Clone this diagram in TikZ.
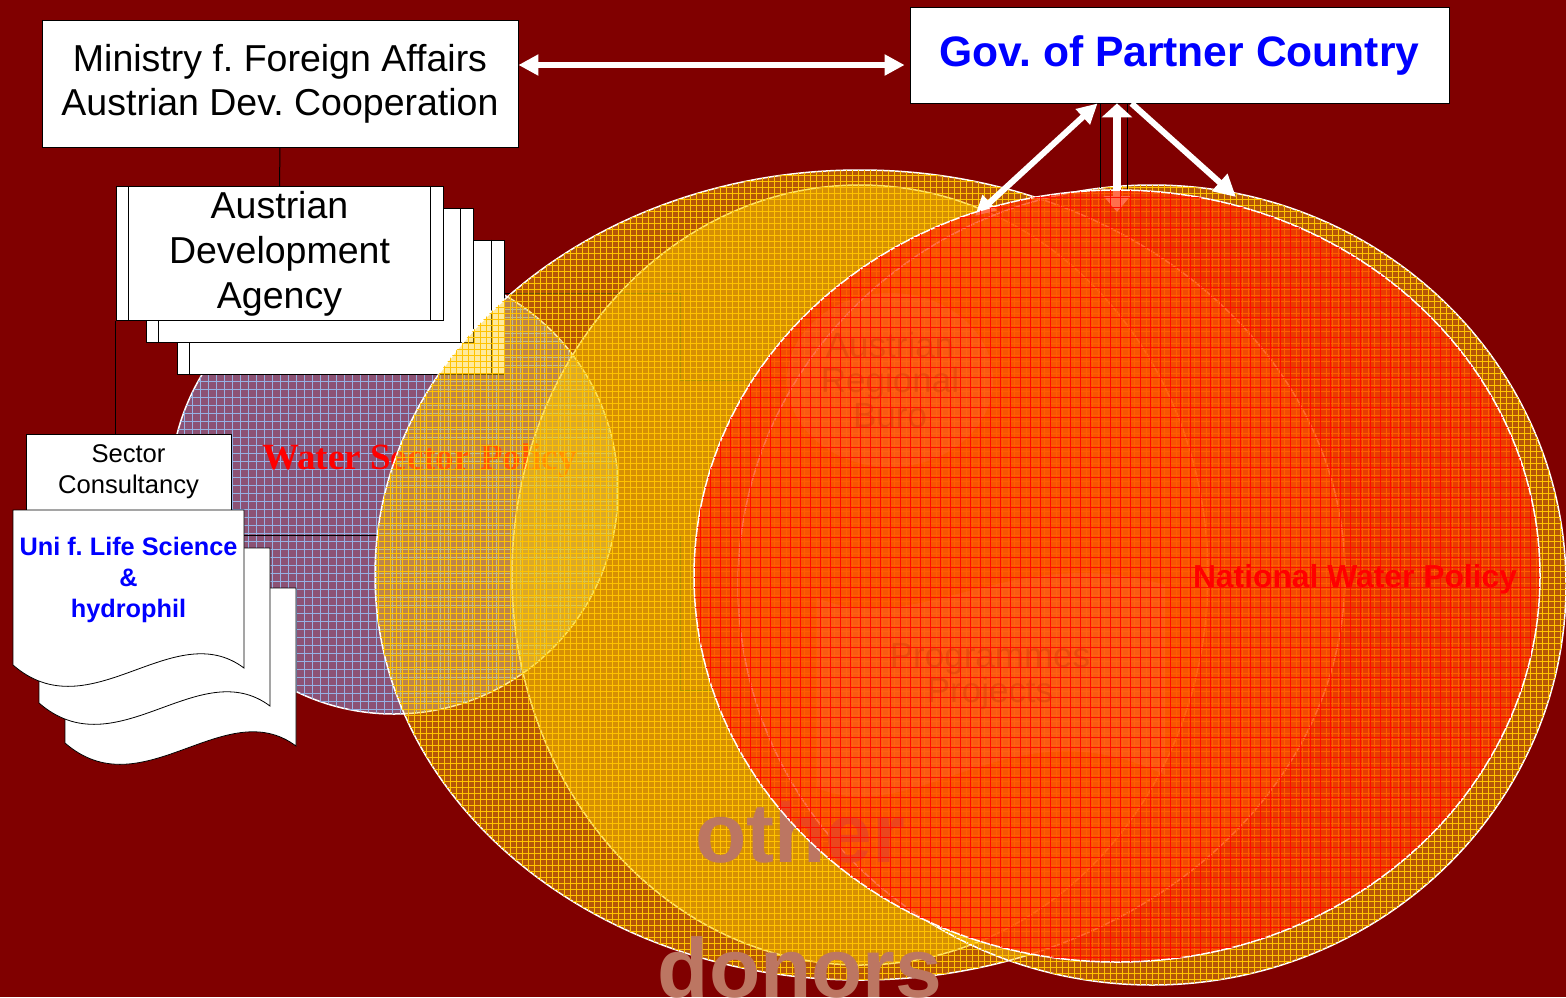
\documentclass[tikz,border=0pt]{standalone}
\usepackage{fontspec}
\setmainfont{Liberation Sans}
\newfontfamily\serifface{Liberation Serif}
\usetikzlibrary{arrows.meta, shapes.geometric, patterns.meta, positioning}
\frenchspacing

\definecolor{slide}{RGB}{128,0,0}
\definecolor{ochre}{RGB}{255,205,20}
\definecolor{ochrein}{RGB}{255,215,0}
\definecolor{ochreline}{RGB}{255,195,0}
\definecolor{ochreedge}{RGB}{255,226,100}
\definecolor{mauve}{RGB}{140,82,116}
\definecolor{gridblue}{RGB}{150,178,228}
\definecolor{nwpred}{RGB}{255,50,0}
\definecolor{gridred}{RGB}{255,10,0}
\definecolor{donortext}{RGB}{188,118,98}
\definecolor{govblue}{RGB}{0,0,255}

\tikzset{
  box/.style={draw=black, fill=white, line width=0.8pt, inner sep=0pt, align=center},
  adabox/.style={box, minimum width=327pt, minimum height=134pt},
  doc/.style={draw=black, fill=white, line width=0.8pt},
  link/.style={draw=black, line width=1pt},
  warrow/.style={draw=white, line width=6pt, {Triangle[length=20pt,width=20pt]}-{Triangle[length=20pt,width=20pt]}},
  donor/.style={ellipse, inner sep=0pt, fill=ochre, fill opacity=0.42, draw=white, line width=1.5pt,
    postaction={pattern={Hatch[angle=0,distance=6pt,line width=0.6pt]}, pattern color=ochreline, fill opacity=0.28}},
  veil/.style={white, fill opacity=0.22},
  ghost/.style={align=center, text=black, text opacity=0.25, font={\fontsize{35}{35}\selectfont}}
}

\begin{document}
\begin{tikzpicture}[x=1pt, y=-1pt]
  \useasboundingbox (0,0) rectangle (1566,997);
  \fill[slide] (0,0) rectangle (1566,997);

  % places the faint links run to
  \node[ellipse, inner sep=0pt, minimum width=206pt, minimum height=174pt] (buro) at (890,380) {};
  \node[inner sep=0pt, minimum width=348pt, minimum height=190pt] (prog) at (991,690) {};

  % water sector policy
  \node[circle, inner sep=0pt, minimum size=448pt, fill=mauve, draw=white, line width=1.5pt,
    postaction={pattern={Hatch[angle=0,distance=8pt,line width=0.8pt]}, pattern color=gridblue, fill opacity=0.28}] (wsp) at (394,490) {};
  \node[text=red, font={\serifface\bfseries\fontsize{37}{44}\selectfont}] (wsptext) at (419.5,461) {Water Sector Policy};

  % boxes
  \node[box, minimum width=476pt, minimum height=127pt, font={\fontsize{37.5}{44}\selectfont}] (ministry) at (280,83.5)
    {Ministry f. Foreign Affairs\\Austrian Dev. Cooperation};
  \node[box, minimum width=539pt, minimum height=96pt, text=govblue, font={\bfseries\fontsize{42.6}{50}\selectfont}] (gov) at (1179.5,55)
    {Gov. of Partner Country};

  \foreach \b/\px/\py in {ada3/340.5/307, ada2/309.5/275.5} {
    \node[adabox] (\b) at (\px,\py) {};
    \draw[line width=0.8pt] ([xshift=13pt]\b.north west) -- ([xshift=13pt]\b.south west)
      ([xshift=-13pt]\b.north east) -- ([xshift=-13pt]\b.south east);
  }
  \node[adabox, font={\fontsize{37.5}{45}\selectfont}] (ada1) at (279.5,253.5) {Austrian\\Development\\Agency};
  \draw[line width=0.8pt] ([xshift=13pt]ada1.north west) -- ([xshift=13pt]ada1.south west)
    ([xshift=-13pt]ada1.north east) -- ([xshift=-13pt]ada1.south east);

  \node[box, minimum width=205pt, minimum height=76pt, font={\fontsize{25.6}{31}\selectfont}] (sector) at (128.5,472)
    {Sector\\Consultancy};

  \foreach \dx/\dy in {52/78, 26/38, 0/0} {
    \begin{scope}[shift={(13+\dx,510+\dy)}]
      \draw[doc] (0,0) -- (231,0) -- (231,158) .. controls (160,105) and (77,222) .. (0,155) -- cycle;
    \end{scope}
  }
  \node[align=center, inner sep=0pt, minimum width=231pt, text=govblue, font={\bfseries\fontsize{25.3}{31}\selectfont}] (uni) at (128.5,580)
    {Uni f. Life Science\\\&\\hydrophil};

  % links
  \draw[link] (ministry.south) -- (ada1.north);
  \draw[link] (ada1.south west) -- (ada1.south west |- sector.north);
  \draw[link] ([yshift=14pt]ada3.east) -- ++(176,0) |- (buro.west);
  \draw[link] ([yshift=45pt]uni.east) -- ++(436,0) |- (prog.west);

  % donors
  \node[donor, minimum width=970pt, minimum height=810pt] (donorsout) at (860,575) {};
  \node[donor, fill=ochrein, fill opacity=0.45, draw=ochreedge, minimum width=696pt, minimum height=780pt,
    postaction={pattern={Hatch[angle=0,distance=6pt,line width=0.6pt]}, pattern color=ochreline, fill opacity=0.2}] (donorsin) at (860,575) {};
  \node[donor, minimum width=828pt, minimum height=800pt] (nwpring) at (1152,585) {};

  % regional buro, programmes
  \fill[veil] (buro.center) ellipse [x radius=103, y radius=87];
  \node[ghost] (burotext) at (buro) {Austrian\\Regional\\Buro};
  \fill[veil] (817,598) .. controls (920,640) and (1010,540) .. (1165,585) -- (1165,775)
    .. controls (1010,700) and (920,830) .. (817,788) -- cycle;
  \node[ghost] (progtext) at (990,677) {Programmes\\Projects};

  \node[text=donortext, font={\bfseries\fontsize{84}{100}\selectfont}, anchor=base] (other) at (800,862) {other};
  \node[text=donortext, font={\bfseries\fontsize{84}{100}\selectfont}, anchor=base] (donors) at (800,997) {donors};

  % arrows
  \coordinate (tipleft) at (975,216);
  \coordinate (tipmid) at (1117,212);
  \coordinate (tipright) at (1236,197);
  \coordinate (ringtop) at (1100,188);
  \coordinate (nwptop) at (1127,190);
  \draw[link] ([xshift=-79.5pt]gov.south) -- (ringtop);
  \draw[link] ([xshift=-52.5pt]gov.south) -- (nwptop);
  \draw[warrow] ([yshift=18.5pt]ministry.east) -- ([yshift=-10pt,xshift=-5pt]gov.west);
  \draw[warrow] ([xshift=-82pt]gov.south) -- (tipleft);
  \draw[warrow, -{Triangle[length=22pt,width=22pt]}] ([xshift=-48pt]gov.south) -- (tipright);
  \draw[warrow, line width=8pt, {Triangle[length=14pt,width=30pt]}-{Triangle[length=16pt,width=26pt]}] ([xshift=-62.5pt]gov.south) -- (tipmid);

  % national water policy
  \node[ellipse, inner sep=0pt, minimum width=846pt, minimum height=772pt, fill=nwpred, fill opacity=0.7, draw=white, line width=1.5pt,
    postaction={pattern={Hatch[angle=0,distance=10pt,line width=0.9pt]}, pattern color=gridred, fill opacity=0.45}] (nwp) at (1117,576) {};
  \node[text=red, font={\bfseries\fontsize{31.8}{38}\selectfont}] (nwptext) at (1355,579) {National Water Policy};
\end{tikzpicture}
\end{document}
